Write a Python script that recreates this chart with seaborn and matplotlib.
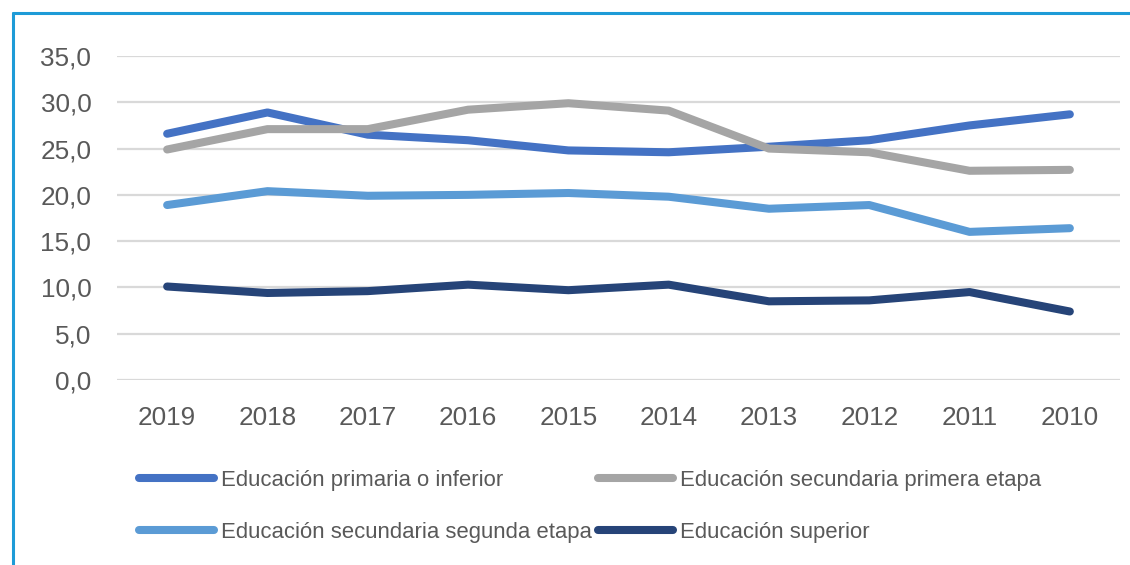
import matplotlib
matplotlib.use("Agg")
import matplotlib.pyplot as plt
from matplotlib.lines import Line2D
import seaborn as sns
import pandas as pd

years = ["2019", "2018", "2017", "2016", "2015", "2014", "2013", "2012", "2011", "2010"]
series_names = [
    "Educación primaria o inferior",
    "Educación secundaria primera etapa",
    "Educación secundaria segunda etapa",
    "Educación superior",
]
primaria = [26.6, 28.9, 26.5, 25.9, 24.8, 24.6, 25.2, 25.9, 27.5, 28.7]
sec_primera = [24.9, 27.1, 27.1, 29.2, 29.9, 29.1, 25.0, 24.6, 22.6, 22.7]
sec_segunda = [18.9, 20.4, 19.9, 20.0, 20.2, 19.8, 18.5, 18.9, 16.0, 16.4]
superior = [10.1, 9.4, 9.6, 10.3, 9.7, 10.3, 8.5, 8.6, 9.5, 7.4]
colors = ["#4472C4", "#A5A5A5", "#5B9BD5", "#264478"]

frames = []
for name, vals in zip(series_names, [primaria, sec_primera, sec_segunda, superior]):
    frames.append(pd.DataFrame({"Año": years, "Valor": vals, "Nivel": name}))
df = pd.concat(frames, ignore_index=True)

sns.set_theme(style="white")
plt.rcParams["font.family"] = ["Liberation Sans", "DejaVu Sans"]

fig = plt.figure(figsize=(11.3, 5.65), dpi=100)
ax = fig.add_axes([117 / 1130, 1 - 380 / 565, (1120 - 117) / 1130, (380 - 56) / 565])

sns.lineplot(
    data=df, x="Año", y="Valor", hue="Nivel", hue_order=series_names,
    palette=colors, sort=False, linewidth=5.8, ax=ax, legend=False,
    solid_capstyle="round", solid_joinstyle="round",
)

ax.set_xlim(-0.5, len(years) - 0.5)
ax.set_ylim(0, 35)
ax.set_yticks([0, 5, 10, 15, 20, 25, 30, 35])
ax.set_yticklabels([f"{v:.1f}".replace(".", ",") for v in ax.get_yticks()])
ax.set_xlabel("")
ax.set_ylabel("")
ax.grid(axis="y", color="#D9D9D9", linewidth=1.6)
ax.grid(axis="x", visible=False)
ax.set_axisbelow(True)
for sp in ax.spines.values():
    sp.set_visible(False)
ax.tick_params(axis="both", length=0, labelsize=18.8, colors="#595959")
ax.tick_params(axis="x", pad=18.5)
ax.tick_params(axis="y", pad=18.5)

# legend: two rows, filled row by row
handles = {n: Line2D([], [], color=c, linewidth=5.8, solid_capstyle="round")
           for n, c in zip(series_names, colors)}
order = [series_names[0], series_names[2], series_names[1], series_names[3]]
fig.legend(
    [handles[n] for n in order], order, ncol=2, frameon=False,
    loc="upper left", bbox_to_anchor=(139 / 1130, 1 - 470 / 565),
    fontsize=15.9, labelcolor="#595959", handlelength=3.4,
    handletextpad=0.3, columnspacing=0.3, labelspacing=1.4,
    borderaxespad=0, borderpad=0,
)

# frame lines on the top and left edges
frame_color = "#1E9BD7"
fig.add_artist(Line2D([13 / 1130, 1], [1 - 13 / 565, 1 - 13 / 565],
                      transform=fig.transFigure, color=frame_color, linewidth=2.2))
fig.add_artist(Line2D([13 / 1130, 13 / 1130], [0, 1 - 13 / 565],
                      transform=fig.transFigure, color=frame_color, linewidth=2.2))

fig.savefig("out.png", dpi=100)
